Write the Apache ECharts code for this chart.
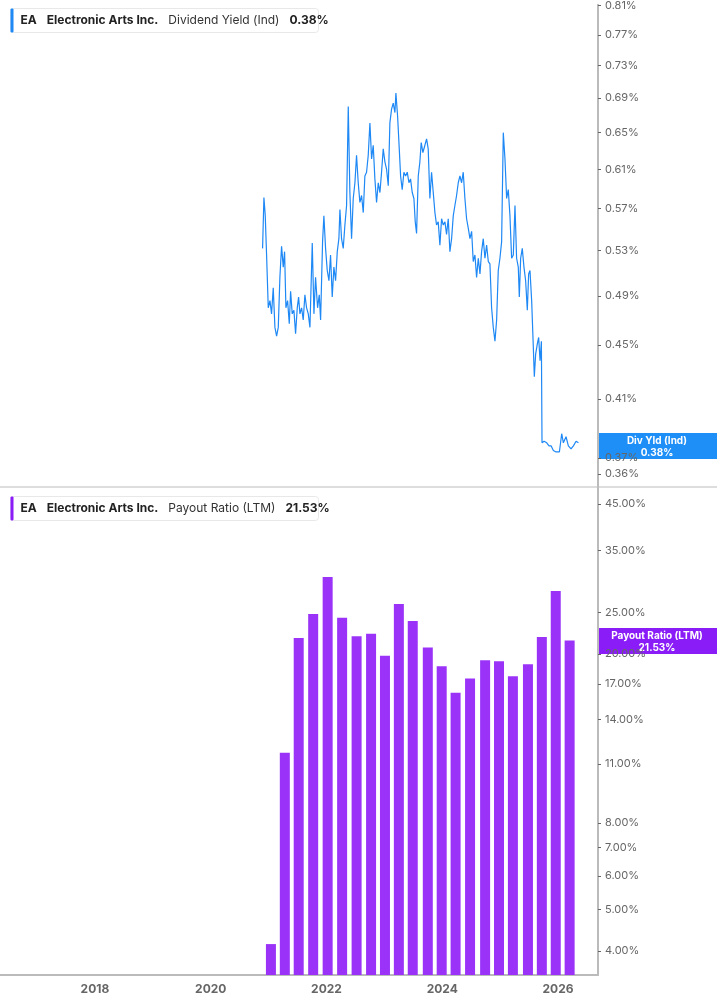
<!DOCTYPE html>
<html><head><meta charset="utf-8">
<script src="https://cdn.jsdelivr.net/npm/echarts@6/dist/echarts.min.js"></script>
<style>html,body{margin:0;padding:0;background:#fff}#c{width:717px;height:1005px}</style>
</head><body><div id="c"></div>
<script>
const yieldYears=[2020.896,2020.919,2020.942,2020.965,2020.994,2021.023,2021.051,2021.080,2021.109,2021.138,2021.167,2021.195,2021.224,2021.253,2021.276,2021.299,2021.328,2021.357,2021.380,2021.408,2021.437,2021.466,2021.495,2021.518,2021.541,2021.570,2021.598,2021.627,2021.656,2021.685,2021.714,2021.754,2021.783,2021.811,2021.846,2021.875,2021.898,2021.932,2021.955,2021.984,2022.013,2022.042,2022.070,2022.099,2022.128,2022.157,2022.186,2022.214,2022.232,2022.260,2022.289,2022.318,2022.347,2022.376,2022.404,2022.433,2022.462,2022.491,2022.519,2022.548,2022.577,2022.606,2022.635,2022.663,2022.692,2022.721,2022.750,2022.779,2022.807,2022.836,2022.865,2022.894,2022.923,2022.951,2022.980,2023.009,2023.038,2023.067,2023.095,2023.124,2023.153,2023.182,2023.199,2023.228,2023.257,2023.280,2023.308,2023.337,2023.366,2023.395,2023.424,2023.452,2023.481,2023.510,2023.533,2023.556,2023.585,2023.613,2023.636,2023.665,2023.700,2023.729,2023.757,2023.786,2023.815,2023.844,2023.873,2023.901,2023.930,2023.959,2023.988,2024.017,2024.046,2024.074,2024.103,2024.132,2024.161,2024.190,2024.218,2024.247,2024.276,2024.305,2024.334,2024.362,2024.391,2024.420,2024.449,2024.478,2024.507,2024.535,2024.564,2024.593,2024.622,2024.651,2024.679,2024.708,2024.737,2024.766,2024.795,2024.823,2024.852,2024.881,2024.910,2024.939,2024.967,2024.996,2025.025,2025.054,2025.083,2025.112,2025.140,2025.169,2025.198,2025.227,2025.256,2025.284,2025.313,2025.331,2025.354,2025.382,2025.411,2025.440,2025.469,2025.492,2025.515,2025.544,2025.573,2025.590,2025.613,2025.642,2025.665,2025.689,2025.712,2025.723,2025.758,2025.804,2025.844,2025.879,2025.919,2025.965,2026.023,2026.063,2026.092,2026.138,2026.178,2026.224,2026.265,2026.311,2026.352];
const yieldValues=[0.532,0.581,0.563,0.526,0.480,0.486,0.475,0.497,0.464,0.457,0.464,0.506,0.534,0.515,0.529,0.480,0.486,0.467,0.494,0.475,0.478,0.459,0.480,0.489,0.475,0.480,0.470,0.491,0.480,0.475,0.464,0.537,0.475,0.506,0.480,0.491,0.470,0.538,0.563,0.532,0.512,0.503,0.526,0.489,0.515,0.503,0.529,0.541,0.569,0.541,0.532,0.554,0.573,0.680,0.586,0.541,0.580,0.596,0.625,0.596,0.576,0.583,0.566,0.603,0.607,0.625,0.661,0.621,0.636,0.600,0.576,0.596,0.586,0.607,0.632,0.618,0.610,0.593,0.661,0.677,0.684,0.673,0.696,0.669,0.632,0.603,0.589,0.607,0.603,0.607,0.596,0.600,0.586,0.580,0.557,0.546,0.603,0.618,0.639,0.628,0.636,0.643,0.632,0.580,0.607,0.586,0.566,0.554,0.557,0.535,0.560,0.554,0.557,0.545,0.560,0.529,0.541,0.563,0.573,0.583,0.596,0.603,0.596,0.607,0.580,0.560,0.551,0.541,0.548,0.520,0.526,0.506,0.523,0.509,0.529,0.541,0.523,0.535,0.520,0.518,0.480,0.464,0.453,0.470,0.512,0.523,0.538,0.650,0.621,0.580,0.589,0.563,0.523,0.526,0.573,0.523,0.515,0.489,0.523,0.532,0.515,0.503,0.478,0.509,0.512,0.486,0.448,0.426,0.443,0.451,0.456,0.438,0.453,0.380,0.381,0.380,0.378,0.378,0.375,0.374,0.374,0.386,0.380,0.384,0.378,0.376,0.378,0.381,0.380];
const payoutYears=[2021.04,2021.28,2021.52,2021.77,2022.02,2022.27,2022.52,2022.77,2023.01,2023.25,2023.49,2023.75,2023.99,2024.23,2024.48,2024.74,2024.98,2025.22,2025.48,2025.72,2025.96,2026.20];
const payoutValues=[4.15,11.7,21.8,24.8,30.3,24.3,22.0,22.3,19.8,26.2,23.9,20.7,18.7,16.2,17.5,19.3,19.2,17.7,18.9,21.9,28.1,21.5];
const yearTicks=[2018,2020,2022,2024,2026];
const yieldTicks=[0.36,0.37,0.41,0.45,0.49,0.53,0.57,0.61,0.65,0.69,0.73,0.77,0.81];
const payoutTicks=[4,5,6,7,8,11,14,17,20,25,35,45];

const chart=echarts.init(document.getElementById('c'));
const font='Inter, "Noto Sans", sans-serif';
const yAx=(idx,min,max,ticks)=>({type:'log',gridIndex:idx,position:'right',min:min,max:max,
  axisLine:{show:true,lineStyle:{color:'#bbb',width:2}},
  axisTick:{show:true,customValues:ticks,length:3,inside:false,lineStyle:{color:'#666'}},
  splitLine:{show:false},minorTick:{show:false},
  axisLabel:{customValues:ticks,color:'#666',fontSize:11,fontFamily:font,margin:7,
    formatter:v=>idx===0?v.toFixed(2)+'%':v.toFixed(2)+'%'}});
const xAx=(idx,showLabel)=>({type:'value',gridIndex:idx,min:2016.36,max:2026.69,
  axisLine:{show:idx===1,lineStyle:{color:'#bbb',width:2}},
  axisTick:{show:false},splitLine:{show:false},
  axisLabel:{show:showLabel,customValues:yearTicks,color:'#666',fontSize:12,fontWeight:'bold',fontFamily:font,margin:8,formatter:v=>String(Math.round(v))}});
const legend=(y,color,label,val)=>({type:'group',left:10,top:y,children:[
  {type:'rect',shape:{x:0,y:0,width:308,height:24,r:3},style:{fill:'#fff',stroke:'#e8e8e8'}},
  {type:'rect',shape:{x:0,y:0,width:3,height:24,r:1},style:{fill:color}},
  {type:'text',x:10,y:6,style:{rich:{b:{fontWeight:'bold',fontSize:12,fill:'#222',fontFamily:font},n:{fontSize:12,fill:'#333',fontFamily:font}},
    text:'{b|EA}   {b|Electronic Arts Inc.}   {n|'+label+'}   {b|'+val+'}'}}]});
const flag=(y,color,label)=>({type:'group',left:598,top:y,children:[
  {type:'rect',shape:{x:0,y:0,width:119,height:26},style:{fill:color}},
  {type:'text',x:59,y:2,style:{text:label,fill:'#fff',fontWeight:'bold',fontSize:10,align:'center',lineHeight:12,fontFamily:font}}]});
chart.setOption({
  animation:false,
  grid:[{left:0,right:119,top:0,height:487},{left:0,right:119,top:488,bottom:30}],
  xAxis:[xAx(0,false),xAx(1,true)],
  yAxis:[yAx(0,0.352,0.811,yieldTicks),yAx(1,3.51,49.1,payoutTicks)],
  series:[
    {type:'line',xAxisIndex:0,yAxisIndex:0,showSymbol:false,data:yieldYears.map((y,i)=>[y,yieldValues[i]]),
      lineStyle:{color:'#1e88f5',width:1.2}},
    {type:'bar',xAxisIndex:1,yAxisIndex:1,barWidth:10,data:payoutYears.map((y,i)=>[y,payoutValues[i]]),
      itemStyle:{color:'#9a33f7'}}
  ],
  graphic:[
    {type:'line',shape:{x1:0,y1:487,x2:717,y2:487},style:{stroke:'#ddd',lineWidth:2}},
    legend(8,'#1e88f5','Dividend Yield (Ind)','0.38%'),
    legend(496,'#8a1cf7','Payout Ratio (LTM)','21.53%'),
    flag(433,'#1e8ff7','Div Yld (Ind)\n0.38%'),
    flag(628,'#8a1cf7','Payout Ratio (LTM)\n21.53%')
  ]
});
</script></body></html>
